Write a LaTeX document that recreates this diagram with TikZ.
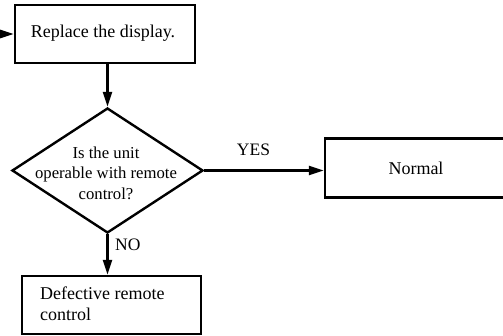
\documentclass[tikz,border=0pt]{standalone}
\usepackage{fontspec}
\setmainfont{Liberation Serif}
\usetikzlibrary{shapes.geometric,arrows.meta}
\tikzset{
  boxshape/.style={draw, line width=2.4pt, rectangle, inner sep=0pt},
  decshape/.style={draw, line width=2.4pt, diamond, inner sep=0pt, minimum width=191pt, minimum height=125pt},
  txt/.style={inner sep=0pt, font=\fontsize{18}{20.5}\selectfont},
  dtxt/.style={inner sep=0pt, align=center, font=\fontsize{16.7}{20.5}\selectfont},
  lbl/.style={inner sep=0pt, font=\fontsize{17.5}{20}\selectfont},
  conn/.style={line width=2.4pt},
  arr/.style={conn, -{Triangle[length=15pt,width=9pt]}}
}
\begin{document}
\begin{tikzpicture}[x=1pt,y=-1pt]
\useasboundingbox (0,0) rectangle (503,336);
\clip (0,0) rectangle (503,336);
% boxes
\node[boxshape, minimum width=180pt, minimum height=58pt] (top) at (105,34) {};
\node[txt] (toptxt) at (103,33) {Replace the display.};
\node[decshape] (dia) at (107.5,170.5) {};
\node[dtxt] (diatxt) at (106,173) {Is the unit\\operable with remote\\control?};
\node[boxshape, minimum width=183pt, minimum height=59pt] (normal) at (416.5,168) {};
\node[txt] (normaltxt) at (416,168) {Normal};
\node[boxshape, minimum width=179pt, minimum height=58pt] (bot) at (111.5,305) {};
\node[txt, align=left, anchor=north west] (bottxt) at (40,287) {Defective remote\\control};
% connectors
\coordinate (entry) at (0,34);
\draw[arr] (entry) -- (top.west);
\draw[arr] (dia.north |- top.south) -- (dia.north);
\draw[arr] (dia.east) -- (dia.east -| normal.west);
\draw[arr] (dia.south) -- (dia.south |- bot.north);
% labels
\node[lbl, anchor=base] (yes) at (253.5,156) {YES};
\node[lbl, anchor=base west] (no) at (115,251) {NO};
\end{tikzpicture}
\end{document}
